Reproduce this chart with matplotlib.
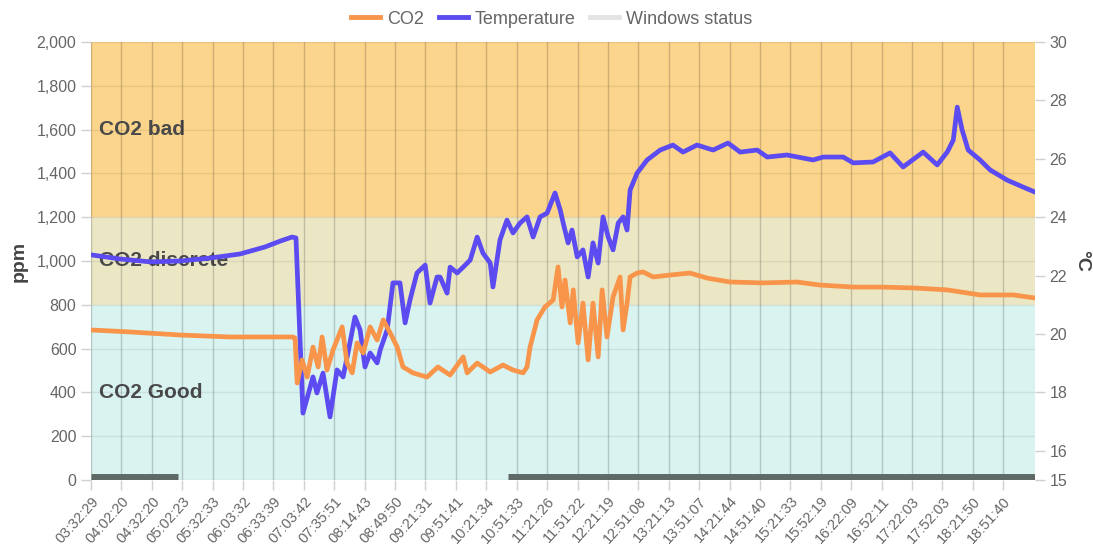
import numpy as np
import matplotlib
matplotlib.use("Agg")
from matplotlib import pyplot as plt
from matplotlib.lines import Line2D
from matplotlib.ticker import FuncFormatter

plt.rcParams['font.family'] = ['Liberation Sans', 'DejaVu Sans']

# x labels (category axis, one label per interval)
time_labels = ["03:32:29", "04:02:20", "04:32:20", "05:02:23", "05:32:33", "06:03:32",
               "06:33:39", "07:03:42", "07:35:51", "08:14:43", "08:49:50", "09:21:31",
               "09:51:41", "10:21:34", "10:51:33", "11:21:26", "11:51:22", "12:21:19",
               "12:51:08", "13:21:13", "13:51:07", "14:21:44", "14:51:40", "15:21:33",
               "15:52:19", "16:22:09", "16:52:11", "17:22:03", "17:52:03", "18:21:50",
               "18:51:40"]

# temperature readings (position in label units, degC)
temp_x = [0, 0.95, 1.94, 2.93, 3.91, 4.90, 5.72, 6.22, 6.61, 6.74, 6.97, 7.30, 7.43, 7.63,
          7.86, 8.09, 8.29, 8.45, 8.68, 8.85, 9.01, 9.18, 9.41, 9.51, 9.74, 9.93, 10.16,
          10.33, 10.49, 10.72, 10.99, 11.15, 11.38, 11.48, 11.71, 11.81, 12.04, 12.24,
          12.47, 12.70, 12.89, 13.13, 13.22, 13.45, 13.68, 13.88, 14.11, 14.34, 14.54,
          14.77, 15.00, 15.26, 15.43, 15.53, 15.69, 15.82, 15.99, 16.18, 16.35, 16.51,
          16.68, 16.84, 17.01, 17.17, 17.34, 17.50, 17.63, 17.73, 17.96, 18.29, 18.72,
          19.14, 19.47, 19.93, 20.46, 20.95, 21.35, 21.91, 22.24, 22.89, 23.75, 24.08,
          24.74, 25.07, 25.72, 26.28, 26.71, 27.37, 27.83, 28.16, 28.36, 28.49, 28.65,
          28.85, 29.24, 29.57, 30.13, 30.66, 31.05]
temp_c = [22.71, 22.57, 22.47, 22.50, 22.60, 22.74, 22.98, 23.18, 23.32, 23.29, 17.29,
          18.53, 17.98, 18.66, 17.16, 18.77, 18.53, 19.35, 20.58, 20.14, 18.87, 19.35,
          19.01, 19.45, 20.14, 21.75, 21.75, 20.38, 21.16, 22.09, 22.36, 21.06, 21.95,
          21.95, 21.40, 22.29, 22.09, 22.29, 22.53, 23.32, 22.77, 22.43, 21.61, 23.22,
          23.90, 23.46, 23.80, 24.01, 23.32, 24.01, 24.14, 24.83, 24.25, 23.80, 23.12,
          23.56, 22.64, 22.88, 21.95, 23.12, 22.43, 24.01, 23.32, 22.88, 23.80, 24.01,
          23.56, 24.93, 25.51, 25.96, 26.30, 26.47, 26.23, 26.47, 26.30, 26.54, 26.23,
          26.30, 26.06, 26.13, 25.96, 26.06, 26.06, 25.86, 25.89, 26.20, 25.72, 26.23,
          25.79, 26.23, 26.64, 27.77, 26.99, 26.30, 25.96, 25.62, 25.27, 25.03, 24.86]

# CO2 readings (position in label units, ppm)
co2_x = [0, 1.28, 2.93, 4.57, 6.64, 6.71, 6.78, 6.94, 7.11, 7.30, 7.47, 7.60, 7.76, 7.96,
         8.26, 8.42, 8.59, 8.75, 8.95, 9.18, 9.41, 9.61, 9.84, 10.07, 10.26, 10.59, 11.05,
         11.41, 11.81, 12.24, 12.37, 12.70, 13.13, 13.55, 13.88, 14.21, 14.34, 14.44,
         14.67, 14.93, 15.20, 15.36, 15.49, 15.59, 15.76, 15.86, 16.02, 16.18, 16.35,
         16.51, 16.68, 16.81, 16.97, 17.17, 17.40, 17.50, 17.63, 17.73, 17.96, 18.16,
         18.49, 19.05, 19.70, 20.26, 21.02, 22.11, 23.22, 23.98, 25.07, 25.95, 27.04,
         28.16, 29.24, 30.33, 31.05]
co2_ppm = [685, 676, 662, 653, 653, 648, 443, 548, 470, 607, 516, 653, 502, 594, 699, 534,
           489, 626, 580, 699, 639, 731, 671, 607, 516, 489, 470, 516, 479, 562, 489, 534,
           493, 525, 502, 489, 516, 607, 731, 790, 822, 973, 790, 913, 717, 868, 626, 808,
           548, 808, 562, 868, 653, 836, 927, 685, 808, 927, 945, 950, 927, 936, 945, 922,
           904, 900, 904, 890, 881, 881, 877, 868, 845, 845, 831]

# windows status (open periods)
win_x = [0, 2.86, np.nan, 13.7, 31.05]
win_v = [12, 12, np.nan, 12, 12]

zones = [(0, 800, "#d9f3f1", "CO2 Good", 400),
         (800, 1200, "#ebe7c5", "CO2 discrete", 1000),
         (1200, 2000, "#fcd58c", "CO2 bad", 1600)]

fig = plt.figure(figsize=(10.93, 5.54), dpi=100)
ax = fig.add_axes([0.0833, 0.1336, 0.8637, 0.7906])
ax2 = ax.twinx()
ax3 = ax.twinx()

for lo, hi, col, name, ypos in zones:
    ax.axhspan(lo, hi, color=col, zorder=0, lw=0)
    ax.text(0.26, ypos, name, fontsize=15, fontweight='bold', color='#4a4a4a',
            va='center', ha='left', zorder=1)

ax.plot(win_x, win_v, color='#5f6a66', lw=5, solid_capstyle='butt', zorder=3)

xmax = 31.05
ax.set_xlim(0, xmax)
ax.set_ylim(0, 2000)
ax.set_yticks(np.arange(0, 2001, 200))
ax.yaxis.set_major_formatter(FuncFormatter(lambda v, p: f"{int(v):,}"))
ax.set_xticks(np.arange(len(time_labels)))
ax.set_xticklabels(time_labels, rotation=48, ha='right', rotation_mode='anchor')
ax.set_ylabel("ppm", fontsize=14, fontweight='bold', color='#444444', labelpad=6)
ax.grid(axis='x', color='#000000', alpha=0.18, lw=1)
ax.grid(axis='y', color='#000000', alpha=0.07, lw=1)
ax.set_axisbelow(False)
ax.tick_params(colors='#d0d0d0', labelcolor='#666666', labelsize=11.5, length=7, width=1)
ax.tick_params(axis='x', labelsize=10.5, pad=3)
for s in ax.spines.values():
    s.set_visible(False)

ax2.plot(temp_x, temp_c, color='#5b4bf0', lw=3.4)
ax2.set_ylim(15, 30)
ax2.set_yticks([15, 16, 18, 20, 22, 24, 26, 28, 30])
ax2.set_ylabel("°C", fontsize=14, fontweight='bold', color='#444444', rotation=270,
               labelpad=16)
ax2.tick_params(colors='#d0d0d0', labelcolor='#666666', labelsize=11.5, length=7, width=1)
for s in ax2.spines.values():
    s.set_visible(False)

ax3.plot(co2_x, co2_ppm, color='#f8954a', lw=3.4)
ax3.set_ylim(0, 2000)
ax3.set_yticks([])
ax3.set_xlim(0, xmax)
for s in ax3.spines.values():
    s.set_visible(False)

handles = [Line2D([], [], color='#f8954a', lw=3.5),
           Line2D([], [], color='#5b4bf0', lw=3.5),
           Line2D([], [], color='#e3e3e3', lw=3.5)]
fig.legend(handles, ["CO2", "Temperature", "Windows status"], loc='upper center',
           bbox_to_anchor=(0.505, 1.01), ncol=3, frameon=False, fontsize=13,
           handlelength=1.6, handletextpad=0.4, columnspacing=0.8, labelcolor='#666666')

fig.savefig("out.png", dpi=100)
